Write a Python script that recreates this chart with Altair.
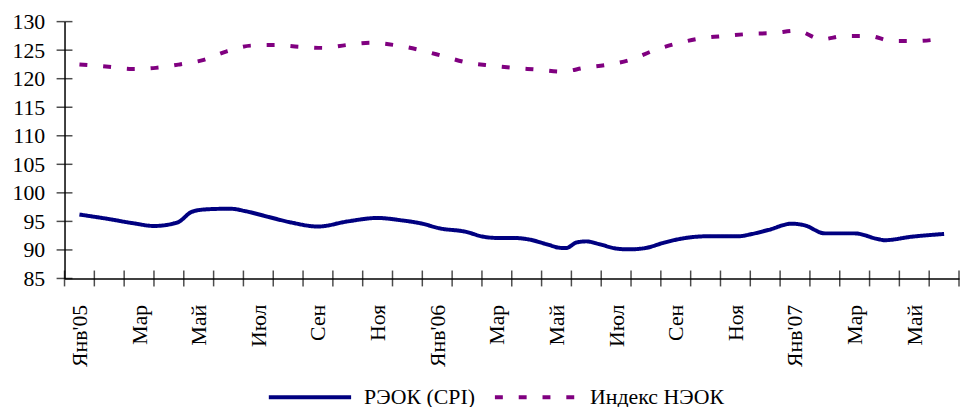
import json
import altair as alt
import pandas as pd

# Month labels (every second month), placed at band centres
month_labels = ["Янв'05", "Мар", "Май", "Июл", "Сен", "Ноя",
                "Янв'06", "Мар", "Май", "Июл", "Сен", "Ноя",
                "Янв'07", "Мар", "Май"]
label_pos = [0.5 + 2 * i for i in range(len(month_labels))]
n_months = 30

series_names = ["РЭОК (CPI)", "Индекс НЭОК"]

# РЭОК (CPI) – position in months since Jan 2005, value
cpi_t = [0.5, 1.5, 2.28, 3.0, 3.78, 4.28, 4.72, 5.28, 5.61, 6.06, 6.83, 7.61,
         8.5, 9.5, 10.5, 11.28, 12.0, 12.56, 13.44, 14.06, 14.5, 15.06, 15.61,
         16.17, 16.67, 16.83, 17.17, 17.5, 17.94, 18.56, 18.94, 19.5, 20.06,
         20.61, 21.61, 22.61, 23.06, 23.61, 24.39, 24.83, 25.5, 26.5, 27.28,
         27.5, 28.39, 29.5]
cpi_v = [96.2, 95.4, 94.7, 94.2, 94.8, 96.7, 97.1, 97.2, 97.2, 96.8, 95.8, 94.8,
         94.1, 95.0, 95.6, 95.2, 94.6, 93.8, 93.2, 92.3, 92.1, 92.1, 91.8,
         91.0, 90.35, 90.35, 91.3, 91.5, 91.0, 90.2, 90.1, 90.35, 91.2,
         91.9, 92.4, 92.4, 92.8, 93.5, 94.6, 94.3, 92.9, 92.9, 91.9,
         91.7, 92.3, 92.8]

# Индекс НЭОК
neer_t = [0.5, 1.48, 2.26, 3.06, 3.86, 4.67, 5.44, 6.26, 7.06, 7.87, 8.67, 9.46,
          10.26, 11.06, 11.86, 12.67, 13.44, 14.26, 15.06, 15.83, 16.67, 17.44,
          18.28, 18.98, 19.74, 20.56, 21.37, 22.17, 22.98, 23.77, 24.56, 25.39,
          26.17, 26.97, 27.76, 28.58, 29.5]
neer_v = [122.5, 122.1, 121.7, 121.9, 122.5, 123.3, 124.8, 125.8, 125.9, 125.6,
          125.4, 125.9, 126.3, 125.9, 125.1, 124.0, 122.9, 122.3, 121.9, 121.6,
          121.25, 121.9, 122.5, 123.3, 124.9, 126.2, 127.1, 127.5, 127.85, 128.0,
          128.4, 126.9, 127.5, 127.5, 126.6, 126.6, 127.1]

y_ticks = [85, 90, 95, 100, 105, 110, 115, 120, 125, 130]

FONT = "Liberation Serif"
FS = 22

lines_df = pd.concat([
    pd.DataFrame({"t": cpi_t, "v": cpi_v, "s": series_names[0]}),
    pd.DataFrame({"t": neer_t, "v": neer_v, "s": series_names[1]}),
])
xticks_df = pd.DataFrame({"t": list(range(n_months + 1)), "v": y_ticks[0]})
yticks_df = pd.DataFrame({"t": 0, "v": y_ticks})

label_expr = "%s[floor(datum.value / 2)]" % json.dumps(month_labels, ensure_ascii=False)

x_scale = alt.Scale(domain=[0, n_months], nice=False, zero=False)
y_scale = alt.Scale(domain=[y_ticks[0], y_ticks[-1]], nice=False, zero=False)

x_axis = alt.Axis(values=label_pos, labelExpr=label_expr, labelAngle=270,
                  labelAlign="right", labelBaseline="middle", labelPadding=26,
                  ticks=False, grid=False, title=None, domainColor="black",
                  domainWidth=1.5, labelFont=FONT, labelFontSize=FS,
                  labelColor="black", labelOverlap=False, labelBound=False)
y_axis = alt.Axis(values=y_ticks, ticks=False, grid=False, title=None,
                  domainColor="black", domainWidth=1.5, labelPadding=20,
                  labelFont=FONT, labelFontSize=FS, labelColor="black",
                  labelOverlap=False, labelBound=False, labelFlush=False,
                  labelSeparation=0)

legend_cfg = dict(title=None, orient="none", direction="horizontal",
                  legendX=204, legendY=335, labelFont=FONT, labelFontSize=FS,
                  labelColor="black")

lines = alt.Chart(lines_df).mark_line(interpolate="monotone", strokeWidth=4,
                                      strokeCap="butt").encode(
    x=alt.X("t:Q", scale=x_scale, axis=x_axis),
    y=alt.Y("v:Q", scale=y_scale, axis=y_axis),
    color=alt.Color("s:N", scale=alt.Scale(domain=series_names,
                                           range=["#000080", "#800080"]),
                    legend=alt.Legend(**legend_cfg)),
    strokeDash=alt.StrokeDash("s:N", scale=alt.Scale(domain=series_names,
                                                     range=[[1, 0], [8, 16]]),
                              legend=alt.Legend(**legend_cfg)),
)

xticks = alt.Chart(xticks_df).mark_tick(orient="vertical", size=16,
                                        thickness=1.5, color="black").encode(
    x=alt.X("t:Q", scale=x_scale, axis=x_axis),
    y=alt.Y("v:Q", scale=y_scale, axis=y_axis))
yticks = alt.Chart(yticks_df).mark_tick(orient="horizontal", size=16,
                                        thickness=1.5, color="black").encode(
    x=alt.X("t:Q", scale=x_scale, axis=x_axis),
    y=alt.Y("v:Q", scale=y_scale, axis=y_axis))

chart = alt.layer(lines, xticks, yticks).properties(
    width=902, height=259, background="white",
    padding={"left": 4, "top": 1, "right": 0, "bottom": 12},
).configure_view(stroke=None).configure_legend(
    symbolType="stroke", symbolSize=6889, symbolStrokeWidth=4,
    labelFont=FONT, labelFontSize=FS, labelColor="black", labelLimit=400,
    columnPadding=12, labelOffset=11,
)

chart.save("out.html", embed_options={"renderer": "svg", "actions": False})
